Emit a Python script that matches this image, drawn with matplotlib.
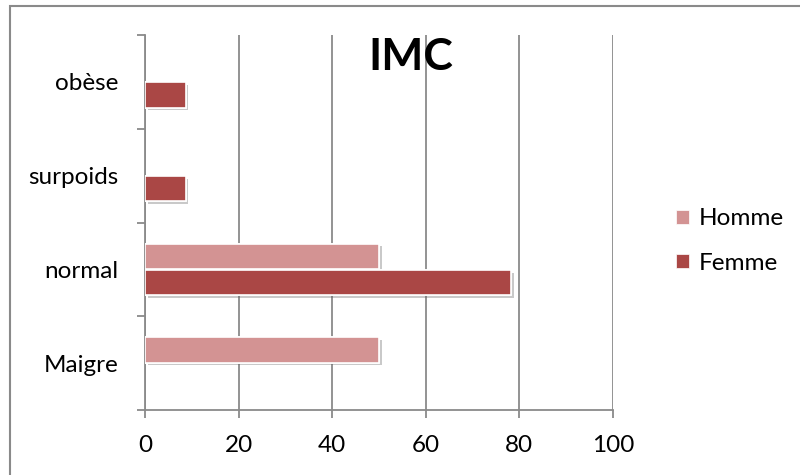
import matplotlib.pyplot as plt
import matplotlib.patheffects as pe
from matplotlib.patches import Rectangle, Patch
import numpy as np

# === Données ===
categories = ["Maigre", "normal", "surpoids", "obèse"]
homme = [50, 50, 0, 0]
femme = [0, 78.2, 8.7, 8.7]
graduations = [0, 20, 40, 60, 80, 100]

couleur_homme = "#D39393"
couleur_femme = "#AA4745"
gris = "#8A8A8A"

plt.rcParams['font.family'] = ['Lato', 'DejaVu Sans']

fig = plt.figure(figsize=(8, 4.75), dpi=100)
ax = fig.add_axes([145 / 800, 1 - 410 / 475, 468 / 800, 375 / 475])

y = np.arange(len(categories))
hauteur = 0.27
ombre = [pe.withSimplePatchShadow(offset=(2, -2), shadow_rgbFace='#666666', alpha=0.35), pe.Normal()]

barres_h = ax.barh(y + hauteur / 2 + 0.005, homme, height=hauteur, color=couleur_homme,
                   edgecolor='white', linewidth=1.2, zorder=3)
barres_f = ax.barh(y - hauteur / 2 - 0.005, femme, height=hauteur, color=couleur_femme,
                   edgecolor='white', linewidth=1.2, zorder=3)

# Les barres à zéro ne sont pas dessinées (comme dans Excel)
for barres, valeurs in [(barres_h, homme), (barres_f, femme)]:
    for b, v in zip(barres, valeurs):
        if v == 0:
            b.set_visible(False)
        else:
            b.set_path_effects(ombre)

# === Axes ===
ax.set_xlim(0, 100)
ax.set_ylim(-0.5, len(categories) - 0.5)
ax.set_xticks(graduations)
ax.set_xticklabels([str(g) for g in graduations], fontsize=17.5)
ax.set_yticks(np.arange(len(categories) + 1) - 0.5)
ax.set_yticklabels([])
ax.set_yticks(y, minor=True)
ax.set_yticklabels(categories, minor=True, fontsize=17.5)

ax.tick_params(axis='x', length=6, width=1.3, color=gris, pad=12)
ax.tick_params(axis='y', which='major', length=6, width=1.3, color=gris)
ax.tick_params(axis='y', which='minor', length=0, pad=19)

ax.grid(axis='x', color=gris, linewidth=1.3)
ax.set_axisbelow(True)
for cote in ['top', 'right']:
    ax.spines[cote].set_visible(False)
for cote in ['left', 'bottom']:
    ax.spines[cote].set_color(gris)
    ax.spines[cote].set_linewidth(1.3)

# === Titre ===
fig.text(411 / 800, 1 - 57 / 475, "IMC", fontsize=32, fontweight='bold',
         ha='center', va='center')

# === Légende ===
poignees = [Patch(facecolor=couleur_homme, edgecolor='white', linewidth=0.5),
            Patch(facecolor=couleur_femme, edgecolor='white', linewidth=0.5)]
fig.legend(poignees, ["Homme", "Femme"], loc='center left', bbox_to_anchor=(676 / 800, 1 - 241 / 475),
           frameon=False, fontsize=17.5, handlelength=0.55, handleheight=0.55,
           handletextpad=0.4, labelspacing=0.95, borderpad=0, borderaxespad=0)

# === Cadre extérieur ===
fig.patches.append(Rectangle((10 / 800, -0.1), 1.2, 0.1 + 1 - 5.5 / 475, transform=fig.transFigure,
                             fill=False, edgecolor=gris, linewidth=1.5, clip_on=False))

fig.savefig("out.png", dpi=100)
